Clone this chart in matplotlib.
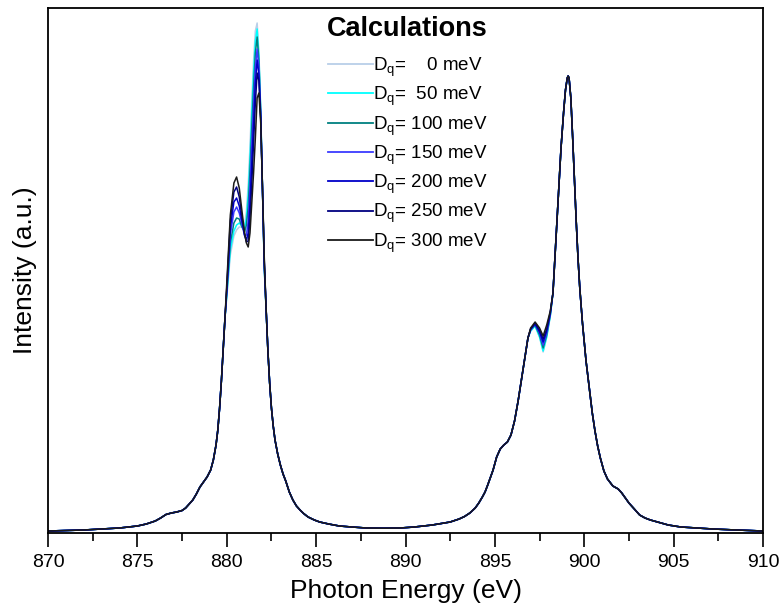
import matplotlib
matplotlib.use('Agg')
import matplotlib.pyplot as plt
from matplotlib.ticker import MultipleLocator

# crystal field values (meV) and line colours
Dq_Values = [0, 50, 100, 150, 200, 250, 300]
Dq_Colors = ['#b9cfe8', '#00ffff', '#008080', '#3c3cff', '#0000c8', '#000080', '#1a1a1a']

# common part of the spectrum, below the L3 edge (a.u.)
Energy_Pre = [870, 871, 872, 873, 874, 875, 875.5, 876.0, 876.3, 876.6, 876.9, 877.2,
              877.5, 877.7, 877.9, 878.1, 878.3, 878.5, 878.7, 878.9, 879.1, 879.25,
              879.4, 879.5, 879.6, 879.7, 879.8, 879.9]
Intensity_Pre = [2, 2.5, 3, 4, 5, 7, 9, 12, 15, 18.5, 20, 21,
                 22.5, 25, 29, 33, 39, 46, 51, 56, 63, 73,
                 88, 103, 125, 152, 183, 215]

# L3 main peak, where the Dq curves split (one row per Dq)
Energy_L3 = [880.0, 880.2, 880.4, 880.55, 880.7, 880.85, 881.0, 881.1, 881.2,
             881.3, 881.4, 881.5, 881.6, 881.7, 881.8, 881.9, 882.0, 882.1]
Intensity_L3 = [
    [235, 278, 297, 303, 306, 306, 308, 322, 348, 387, 432, 472, 502, 510, 480, 423, 342, 264],
    [237, 283, 302, 308, 310, 307, 305, 315, 338, 375, 420, 460, 492, 504, 477, 422, 342, 265],
    [239, 290, 310, 315, 314, 306, 301, 308, 326, 362, 405, 445, 480, 496, 472, 420, 342, 266],
    [241, 298, 321, 326, 320, 309, 297, 298, 312, 345, 388, 428, 466, 484, 465, 418, 342, 268],
    [243, 305, 331, 335, 327, 312, 298, 293, 300, 330, 370, 410, 450, 473, 458, 415, 342, 270],
    [245, 312, 341, 346, 336, 316, 298, 291, 292, 315, 350, 390, 430, 460, 452, 415, 345, 272],
    [250, 318, 350, 356, 345, 322, 300, 290, 286, 300, 330, 360, 395, 435, 440, 410, 345, 275],
]

# common part between the edges
Energy_Mid = [882.2, 882.3, 882.4, 882.5, 882.6, 882.7, 882.85, 883.0, 883.15, 883.3, 883.5,
              883.7, 883.9, 884.1, 884.3, 884.55, 884.9, 885.2, 885.7, 886.3, 887.0, 887.8,
              888.8, 889.7, 890.5, 891.5, 892.0, 892.5, 893.0, 893.3, 893.6, 893.9, 894.1,
              894.3, 894.45, 894.6, 894.9, 895.1, 895.3, 895.5, 895.7, 895.9, 896.1, 896.3,
              896.5, 896.7, 896.85]
Intensity_Mid = [225, 183, 150, 125, 107, 93, 79, 68, 59, 52, 41,
                 33, 27, 23, 19.5, 16, 13, 11, 9, 7, 6, 5,
                 4.8, 5, 6, 8, 9.5, 11, 14, 16.5, 20, 25, 30,
                 36, 41, 48, 63, 76, 84, 88, 91, 98, 112, 132,
                 155, 178, 195]

# L2 pre-peak and dip (one row per Dq)
Energy_L2 = [897.0, 897.25, 897.5, 897.7, 897.9, 898.1]
Intensity_L2 = [
    [202, 207, 196, 181, 196, 217],
    [202, 207, 196, 182, 196, 217],
    [203, 208, 198, 185, 198, 218],
    [203, 209, 200, 188, 200, 219],
    [204, 209, 201, 191, 202, 220],
    [204, 210, 203, 194, 204, 221],
    [205, 211, 205, 197, 208, 222],
]

# common part, L2 main peak and tail
Energy_Post = [898.25, 898.4, 898.55, 898.7, 898.85, 898.95, 899.05, 899.1, 899.15, 899.25,
               899.35, 899.45, 899.55, 899.65, 899.75, 899.9, 900.1, 900.3, 900.45, 900.6,
               900.75, 900.9, 901.1, 901.3, 901.6, 901.9, 902.1, 902.3, 902.5, 902.8,
               903.1, 903.4, 903.7, 904.1, 904.7, 905.4, 906.3, 907.2, 908.5, 910]
Intensity_Post = [240, 288, 337, 385, 422, 443, 455, 457, 455, 435,
                  396, 354, 312, 275, 245, 210, 172, 142, 120, 102,
                  87, 75, 62, 54, 47, 44, 40, 35, 30, 24,
                  18, 15, 13, 11, 8, 6, 5, 4, 3, 2]


def BuildSeries(i):
    Energy = Energy_Pre + Energy_L3 + Energy_Mid + Energy_L2 + Energy_Post
    Intensity = Intensity_Pre + Intensity_L3[i] + Intensity_Mid + Intensity_L2[i] + Intensity_Post
    return Energy, Intensity


def PlotSpectra():
    fig = plt.figure(figsize=(7.84, 6.11), dpi=100)
    ax = fig.add_axes([48/784, 78/611, 715/784, 525/611])

    for i, Dq in enumerate(Dq_Values):
        Energy, Intensity = BuildSeries(i)
        if Dq == 0:
            label = r'D$_\mathregular{q}$=    %d meV' % Dq
        elif Dq < 100:
            label = r'D$_\mathregular{q}$=  %d meV' % Dq
        else:
            label = r'D$_\mathregular{q}$= %d meV' % Dq
        ax.plot(Energy, Intensity, color=Dq_Colors[i], lw=1.1, label=label)

    ax.set_xlim(870, 910)
    ax.set_ylim(0, 525)
    ax.xaxis.set_major_locator(MultipleLocator(5))
    ax.xaxis.set_minor_locator(MultipleLocator(2.5))
    ax.set_yticks([])
    ax.tick_params(axis='x', which='major', direction='out', length=10, width=1.2, pad=5)
    ax.tick_params(axis='x', which='minor', direction='out', length=6, width=1.2)
    for spine in ax.spines.values():
        spine.set_linewidth(1.3)

    font = ['Liberation Sans', 'DejaVu Sans']
    for lab in ax.get_xticklabels():
        lab.set_fontfamily(font)
        lab.set_fontsize(14)
    ax.set_xlabel('Photon Energy (eV)', family=font, fontsize=19, labelpad=6)
    ax.set_ylabel('Intensity (a.u.)', family=font, fontsize=19, labelpad=8)

    leg = ax.legend(loc='upper left', bbox_to_anchor=(319/784, 1 - 46/611),
                    bbox_transform=fig.transFigure, frameon=False, borderpad=0,
                    handlelength=2.4, handletextpad=0.0, labelspacing=0.31,
                    prop={'family': font, 'size': 13.5})
    for line in leg.get_lines():
        line.set_linewidth(1.3)
    fig.text(407/784, 1 - 29/611, 'Calculations', family=font, fontsize=19.5,
             weight='bold', ha='center', va='center')

    fig.savefig('out.png', dpi=100)


if __name__ == '__main__':
    PlotSpectra()
